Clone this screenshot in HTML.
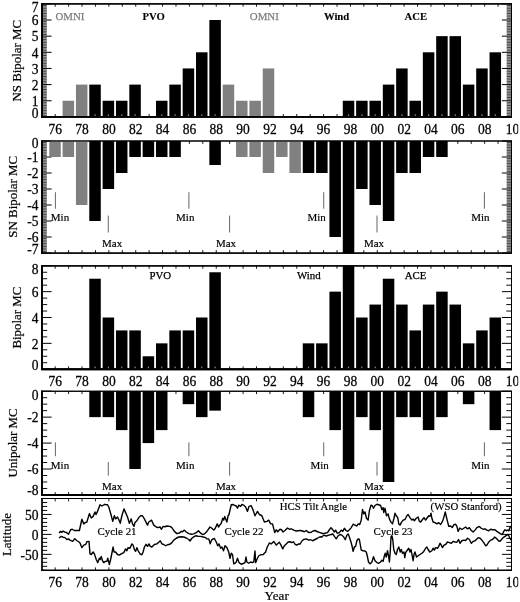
<!DOCTYPE html>
<html><head><meta charset="utf-8"><title>Magnetic clouds per year</title>
<style>html,body{margin:0;padding:0;background:#fff}svg{display:block;filter:blur(0.35px)}</style></head>
<body>
<svg width="520" height="602" viewBox="0 0 520 602" font-family="'Liberation Serif', serif" fill="#000">
<rect width="520" height="602" fill="#fff"/>
<path d="M55.2 3.8v2.9M55.2 116.9v-2.9M68.62 3.8v2.9M68.62 116.9v-2.9M82.04 3.8v2.9M82.04 116.9v-2.9M95.46 3.8v2.9M95.46 116.9v-2.9M108.88 3.8v2.9M108.88 116.9v-2.9M122.3 3.8v2.9M122.3 116.9v-2.9M135.72 3.8v2.9M135.72 116.9v-2.9M149.14 3.8v2.9M149.14 116.9v-2.9M162.56 3.8v2.9M162.56 116.9v-2.9M175.98 3.8v2.9M175.98 116.9v-2.9M189.4 3.8v2.9M189.4 116.9v-2.9M202.82 3.8v2.9M202.82 116.9v-2.9M216.24 3.8v2.9M216.24 116.9v-2.9M229.66 3.8v2.9M229.66 116.9v-2.9M243.08 3.8v2.9M243.08 116.9v-2.9M256.5 3.8v2.9M256.5 116.9v-2.9M269.92 3.8v2.9M269.92 116.9v-2.9M283.34 3.8v2.9M283.34 116.9v-2.9M296.76 3.8v2.9M296.76 116.9v-2.9M310.18 3.8v2.9M310.18 116.9v-2.9M323.6 3.8v2.9M323.6 116.9v-2.9M337.02 3.8v2.9M337.02 116.9v-2.9M350.44 3.8v2.9M350.44 116.9v-2.9M363.86 3.8v2.9M363.86 116.9v-2.9M377.28 3.8v2.9M377.28 116.9v-2.9M390.7 3.8v2.9M390.7 116.9v-2.9M404.12 3.8v2.9M404.12 116.9v-2.9M417.54 3.8v2.9M417.54 116.9v-2.9M430.96 3.8v2.9M430.96 116.9v-2.9M444.38 3.8v2.9M444.38 116.9v-2.9M457.8 3.8v2.9M457.8 116.9v-2.9M471.22 3.8v2.9M471.22 116.9v-2.9M484.64 3.8v2.9M484.64 116.9v-2.9M498.06 3.8v2.9M498.06 116.9v-2.9" stroke="#000" stroke-width="0.9" fill="none"/>
<path d="M42 115.29h4.8M511.5 115.29h-4.8M42 113.67h4.8M511.5 113.67h-4.8M42 112.06h4.8M511.5 112.06h-4.8M42 110.44h4.8M511.5 110.44h-4.8M42 108.83h4.8M511.5 108.83h-4.8M42 107.21h4.8M511.5 107.21h-4.8M42 105.59h4.8M511.5 105.59h-4.8M42 103.98h4.8M511.5 103.98h-4.8M42 102.37h4.8M511.5 102.37h-4.8M42 99.14h4.8M511.5 99.14h-4.8M42 97.52h4.8M511.5 97.52h-4.8M42 95.91h4.8M511.5 95.91h-4.8M42 94.29h4.8M511.5 94.29h-4.8M42 92.68h4.8M511.5 92.68h-4.8M42 91.06h4.8M511.5 91.06h-4.8M42 89.45h4.8M511.5 89.45h-4.8M42 87.83h4.8M511.5 87.83h-4.8M42 86.22h4.8M511.5 86.22h-4.8M42 82.99h4.8M511.5 82.99h-4.8M42 81.37h4.8M511.5 81.37h-4.8M42 79.75h4.8M511.5 79.75h-4.8M42 78.14h4.8M511.5 78.14h-4.8M42 76.53h4.8M511.5 76.53h-4.8M42 74.91h4.8M511.5 74.91h-4.8M42 73.3h4.8M511.5 73.3h-4.8M42 71.68h4.8M511.5 71.68h-4.8M42 70.06h4.8M511.5 70.06h-4.8M42 66.84h4.8M511.5 66.84h-4.8M42 65.22h4.8M511.5 65.22h-4.8M42 63.61h4.8M511.5 63.61h-4.8M42 61.99h4.8M511.5 61.99h-4.8M42 60.38h4.8M511.5 60.38h-4.8M42 58.76h4.8M511.5 58.76h-4.8M42 57.15h4.8M511.5 57.15h-4.8M42 55.53h4.8M511.5 55.53h-4.8M42 53.92h4.8M511.5 53.92h-4.8M42 50.69h4.8M511.5 50.69h-4.8M42 49.07h4.8M511.5 49.07h-4.8M42 47.46h4.8M511.5 47.46h-4.8M42 45.84h4.8M511.5 45.84h-4.8M42 44.23h4.8M511.5 44.23h-4.8M42 42.61h4.8M511.5 42.61h-4.8M42 41h4.8M511.5 41h-4.8M42 39.38h4.8M511.5 39.38h-4.8M42 37.77h4.8M511.5 37.77h-4.8M42 34.54h4.8M511.5 34.54h-4.8M42 32.92h4.8M511.5 32.92h-4.8M42 31.31h4.8M511.5 31.31h-4.8M42 29.69h4.8M511.5 29.69h-4.8M42 28.08h4.8M511.5 28.08h-4.8M42 26.46h4.8M511.5 26.46h-4.8M42 24.85h4.8M511.5 24.85h-4.8M42 23.23h4.8M511.5 23.23h-4.8M42 21.62h4.8M511.5 21.62h-4.8M42 18.39h4.8M511.5 18.39h-4.8M42 16.77h4.8M511.5 16.77h-4.8M42 15.16h4.8M511.5 15.16h-4.8M42 13.54h4.8M511.5 13.54h-4.8M42 11.93h4.8M511.5 11.93h-4.8M42 10.31h4.8M511.5 10.31h-4.8M42 8.7h4.8M511.5 8.7h-4.8M42 7.08h4.8M511.5 7.08h-4.8M42 5.47h4.8M511.5 5.47h-4.8" stroke="#000" stroke-width="0.72" fill="none"/>
<path d="M42 116.09h4.8M511.5 116.09h-4.8M42 114.48h4.8M511.5 114.48h-4.8M42 112.86h4.8M511.5 112.86h-4.8M42 111.25h4.8M511.5 111.25h-4.8M42 109.63h4.8M511.5 109.63h-4.8M42 108.02h4.8M511.5 108.02h-4.8M42 106.4h4.8M511.5 106.4h-4.8M42 104.79h4.8M511.5 104.79h-4.8M42 103.17h4.8M511.5 103.17h-4.8M42 101.56h4.8M511.5 101.56h-4.8M42 99.94h4.8M511.5 99.94h-4.8M42 98.33h4.8M511.5 98.33h-4.8M42 96.71h4.8M511.5 96.71h-4.8M42 95.1h4.8M511.5 95.1h-4.8M42 93.48h4.8M511.5 93.48h-4.8M42 91.87h4.8M511.5 91.87h-4.8M42 90.25h4.8M511.5 90.25h-4.8M42 88.64h4.8M511.5 88.64h-4.8M42 87.02h4.8M511.5 87.02h-4.8M42 85.41h4.8M511.5 85.41h-4.8M42 83.79h4.8M511.5 83.79h-4.8M42 82.18h4.8M511.5 82.18h-4.8M42 80.56h4.8M511.5 80.56h-4.8M42 78.95h4.8M511.5 78.95h-4.8M42 77.33h4.8M511.5 77.33h-4.8M42 75.72h4.8M511.5 75.72h-4.8M42 74.1h4.8M511.5 74.1h-4.8M42 72.49h4.8M511.5 72.49h-4.8M42 70.87h4.8M511.5 70.87h-4.8M42 69.26h4.8M511.5 69.26h-4.8M42 67.64h4.8M511.5 67.64h-4.8M42 66.03h4.8M511.5 66.03h-4.8M42 64.41h4.8M511.5 64.41h-4.8M42 62.8h4.8M511.5 62.8h-4.8M42 61.18h4.8M511.5 61.18h-4.8M42 59.57h4.8M511.5 59.57h-4.8M42 57.95h4.8M511.5 57.95h-4.8M42 56.34h4.8M511.5 56.34h-4.8M42 54.72h4.8M511.5 54.72h-4.8M42 53.11h4.8M511.5 53.11h-4.8M42 51.49h4.8M511.5 51.49h-4.8M42 49.88h4.8M511.5 49.88h-4.8M42 48.26h4.8M511.5 48.26h-4.8M42 46.65h4.8M511.5 46.65h-4.8M42 45.03h4.8M511.5 45.03h-4.8M42 43.42h4.8M511.5 43.42h-4.8M42 41.8h4.8M511.5 41.8h-4.8M42 40.19h4.8M511.5 40.19h-4.8M42 38.57h4.8M511.5 38.57h-4.8M42 36.96h4.8M511.5 36.96h-4.8M42 35.34h4.8M511.5 35.34h-4.8M42 33.73h4.8M511.5 33.73h-4.8M42 32.11h4.8M511.5 32.11h-4.8M42 30.5h4.8M511.5 30.5h-4.8M42 28.88h4.8M511.5 28.88h-4.8M42 27.27h4.8M511.5 27.27h-4.8M42 25.65h4.8M511.5 25.65h-4.8M42 24.04h4.8M511.5 24.04h-4.8M42 22.42h4.8M511.5 22.42h-4.8M42 20.81h4.8M511.5 20.81h-4.8M42 19.19h4.8M511.5 19.19h-4.8M42 17.58h4.8M511.5 17.58h-4.8M42 15.96h4.8M511.5 15.96h-4.8M42 14.35h4.8M511.5 14.35h-4.8M42 12.73h4.8M511.5 12.73h-4.8M42 11.12h4.8M511.5 11.12h-4.8M42 9.5h4.8M511.5 9.5h-4.8M42 7.89h4.8M511.5 7.89h-4.8M42 6.27h4.8M511.5 6.27h-4.8M42 4.66h4.8M511.5 4.66h-4.8" stroke="#000" stroke-width="0.26" fill="none"/>
<path d="M42 116.9h9.6M511.5 116.9h-9.6M42 100.75h9.6M511.5 100.75h-9.6M42 84.6h9.6M511.5 84.6h-9.6M42 68.45h9.6M511.5 68.45h-9.6M42 52.3h9.6M511.5 52.3h-9.6M42 36.15h9.6M511.5 36.15h-9.6M42 20h9.6M511.5 20h-9.6M42 3.85h9.6M511.5 3.85h-9.6" stroke="#000" stroke-width="1.0" fill="none"/>
<path d="M41.2 3.8H512" stroke="#000" stroke-width="1.15" fill="none"/>
<path d="M511.5 3.8V116.9" stroke="#000" stroke-width="1.05" fill="none"/>
<path d="M42 3.3V117.7" stroke="#000" stroke-width="1.7" fill="none"/>
<path d="M41.2 116.9H512" stroke="#000" stroke-width="1.65" fill="none"/>
<rect x="62.6" y="100.75" width="11.5" height="16.15" fill="#808080"/>
<rect x="75.94" y="84.6" width="11.5" height="32.3" fill="#808080"/>
<rect x="89.28" y="84.6" width="11.5" height="32.3" fill="#000"/>
<rect x="102.63" y="100.75" width="11.5" height="16.15" fill="#000"/>
<rect x="115.97" y="100.75" width="11.5" height="16.15" fill="#000"/>
<rect x="129.31" y="84.6" width="11.5" height="32.3" fill="#000"/>
<rect x="155.99" y="100.75" width="11.5" height="16.15" fill="#000"/>
<rect x="169.34" y="84.6" width="11.5" height="32.3" fill="#000"/>
<rect x="182.68" y="68.45" width="11.5" height="48.45" fill="#000"/>
<rect x="196.02" y="52.3" width="11.5" height="64.6" fill="#000"/>
<rect x="209.36" y="20" width="11.5" height="96.9" fill="#000"/>
<rect x="222.7" y="84.6" width="11.5" height="32.3" fill="#808080"/>
<rect x="236.05" y="100.75" width="11.5" height="16.15" fill="#808080"/>
<rect x="249.39" y="100.75" width="11.5" height="16.15" fill="#808080"/>
<rect x="262.73" y="68.45" width="11.5" height="48.45" fill="#808080"/>
<rect x="342.78" y="100.75" width="11.5" height="16.15" fill="#000"/>
<rect x="356.12" y="100.75" width="11.5" height="16.15" fill="#000"/>
<rect x="369.47" y="100.75" width="11.5" height="16.15" fill="#000"/>
<rect x="382.81" y="84.6" width="11.5" height="32.3" fill="#000"/>
<rect x="396.15" y="68.45" width="11.5" height="48.45" fill="#000"/>
<rect x="409.49" y="100.75" width="11.5" height="16.15" fill="#000"/>
<rect x="422.83" y="52.3" width="11.5" height="64.6" fill="#000"/>
<rect x="436.18" y="36.15" width="11.5" height="80.75" fill="#000"/>
<rect x="449.52" y="36.15" width="11.5" height="80.75" fill="#000"/>
<rect x="462.86" y="84.6" width="11.5" height="32.3" fill="#000"/>
<rect x="476.2" y="68.45" width="11.5" height="48.45" fill="#000"/>
<rect x="489.54" y="52.3" width="11.5" height="64.6" fill="#000"/>
<path d="M41.2 3.8H512" stroke="#000" stroke-width="1.15" fill="none"/>
<path d="M511.5 3.8V116.9" stroke="#000" stroke-width="1.05" fill="none"/>
<path d="M42 3.3V117.7" stroke="#000" stroke-width="1.7" fill="none"/>
<path d="M41.2 116.9H512" stroke="#000" stroke-width="1.65" fill="none"/>
<rect x="67.75" y="114.3" width="1.2" height="1.6" fill="#8a8a8a"/><rect x="81.09" y="114.3" width="1.2" height="1.6" fill="#8a8a8a"/><rect x="94.43" y="114.3" width="1.2" height="1.6" fill="#8a8a8a"/><rect x="107.78" y="114.3" width="1.2" height="1.6" fill="#8a8a8a"/><rect x="121.12" y="114.3" width="1.2" height="1.6" fill="#8a8a8a"/><rect x="134.46" y="114.3" width="1.2" height="1.6" fill="#8a8a8a"/><rect x="161.14" y="114.3" width="1.2" height="1.6" fill="#8a8a8a"/><rect x="174.49" y="114.3" width="1.2" height="1.6" fill="#8a8a8a"/><rect x="187.83" y="114.3" width="1.2" height="1.6" fill="#8a8a8a"/><rect x="201.17" y="114.3" width="1.2" height="1.6" fill="#8a8a8a"/><rect x="214.51" y="114.3" width="1.2" height="1.6" fill="#8a8a8a"/><rect x="227.85" y="114.3" width="1.2" height="1.6" fill="#8a8a8a"/><rect x="241.2" y="114.3" width="1.2" height="1.6" fill="#8a8a8a"/><rect x="254.54" y="114.3" width="1.2" height="1.6" fill="#8a8a8a"/><rect x="267.88" y="114.3" width="1.2" height="1.6" fill="#8a8a8a"/><rect x="347.93" y="114.3" width="1.2" height="1.6" fill="#8a8a8a"/><rect x="361.27" y="114.3" width="1.2" height="1.6" fill="#8a8a8a"/><rect x="374.62" y="114.3" width="1.2" height="1.6" fill="#8a8a8a"/><rect x="387.96" y="114.3" width="1.2" height="1.6" fill="#8a8a8a"/><rect x="401.3" y="114.3" width="1.2" height="1.6" fill="#8a8a8a"/><rect x="414.64" y="114.3" width="1.2" height="1.6" fill="#8a8a8a"/><rect x="427.98" y="114.3" width="1.2" height="1.6" fill="#8a8a8a"/><rect x="441.33" y="114.3" width="1.2" height="1.6" fill="#8a8a8a"/><rect x="454.67" y="114.3" width="1.2" height="1.6" fill="#8a8a8a"/><rect x="468.01" y="114.3" width="1.2" height="1.6" fill="#8a8a8a"/><rect x="481.35" y="114.3" width="1.2" height="1.6" fill="#8a8a8a"/><rect x="494.69" y="114.3" width="1.2" height="1.6" fill="#8a8a8a"/>
<path d="M55.2 141v2.9M55.2 253v-2.9M68.62 141v2.9M68.62 253v-2.9M82.04 141v2.9M82.04 253v-2.9M95.46 141v2.9M95.46 253v-2.9M108.88 141v2.9M108.88 253v-2.9M122.3 141v2.9M122.3 253v-2.9M135.72 141v2.9M135.72 253v-2.9M149.14 141v2.9M149.14 253v-2.9M162.56 141v2.9M162.56 253v-2.9M175.98 141v2.9M175.98 253v-2.9M189.4 141v2.9M189.4 253v-2.9M202.82 141v2.9M202.82 253v-2.9M216.24 141v2.9M216.24 253v-2.9M229.66 141v2.9M229.66 253v-2.9M243.08 141v2.9M243.08 253v-2.9M256.5 141v2.9M256.5 253v-2.9M269.92 141v2.9M269.92 253v-2.9M283.34 141v2.9M283.34 253v-2.9M296.76 141v2.9M296.76 253v-2.9M310.18 141v2.9M310.18 253v-2.9M323.6 141v2.9M323.6 253v-2.9M337.02 141v2.9M337.02 253v-2.9M350.44 141v2.9M350.44 253v-2.9M363.86 141v2.9M363.86 253v-2.9M377.28 141v2.9M377.28 253v-2.9M390.7 141v2.9M390.7 253v-2.9M404.12 141v2.9M404.12 253v-2.9M417.54 141v2.9M417.54 253v-2.9M430.96 141v2.9M430.96 253v-2.9M444.38 141v2.9M444.38 253v-2.9M457.8 141v2.9M457.8 253v-2.9M471.22 141v2.9M471.22 253v-2.9M484.64 141v2.9M484.64 253v-2.9M498.06 141v2.9M498.06 253v-2.9" stroke="#000" stroke-width="0.9" fill="none"/>
<path d="M42 251.4h4.8M511.5 251.4h-4.8M42 249.8h4.8M511.5 249.8h-4.8M42 248.2h4.8M511.5 248.2h-4.8M42 246.6h4.8M511.5 246.6h-4.8M42 245h4.8M511.5 245h-4.8M42 243.4h4.8M511.5 243.4h-4.8M42 241.8h4.8M511.5 241.8h-4.8M42 240.2h4.8M511.5 240.2h-4.8M42 238.6h4.8M511.5 238.6h-4.8M42 235.4h4.8M511.5 235.4h-4.8M42 233.8h4.8M511.5 233.8h-4.8M42 232.2h4.8M511.5 232.2h-4.8M42 230.6h4.8M511.5 230.6h-4.8M42 229h4.8M511.5 229h-4.8M42 227.4h4.8M511.5 227.4h-4.8M42 225.8h4.8M511.5 225.8h-4.8M42 224.2h4.8M511.5 224.2h-4.8M42 222.6h4.8M511.5 222.6h-4.8M42 219.4h4.8M511.5 219.4h-4.8M42 217.8h4.8M511.5 217.8h-4.8M42 216.2h4.8M511.5 216.2h-4.8M42 214.6h4.8M511.5 214.6h-4.8M42 213h4.8M511.5 213h-4.8M42 211.4h4.8M511.5 211.4h-4.8M42 209.8h4.8M511.5 209.8h-4.8M42 208.2h4.8M511.5 208.2h-4.8M42 206.6h4.8M511.5 206.6h-4.8M42 203.4h4.8M511.5 203.4h-4.8M42 201.8h4.8M511.5 201.8h-4.8M42 200.2h4.8M511.5 200.2h-4.8M42 198.6h4.8M511.5 198.6h-4.8M42 197h4.8M511.5 197h-4.8M42 195.4h4.8M511.5 195.4h-4.8M42 193.8h4.8M511.5 193.8h-4.8M42 192.2h4.8M511.5 192.2h-4.8M42 190.6h4.8M511.5 190.6h-4.8M42 187.4h4.8M511.5 187.4h-4.8M42 185.8h4.8M511.5 185.8h-4.8M42 184.2h4.8M511.5 184.2h-4.8M42 182.6h4.8M511.5 182.6h-4.8M42 181h4.8M511.5 181h-4.8M42 179.4h4.8M511.5 179.4h-4.8M42 177.8h4.8M511.5 177.8h-4.8M42 176.2h4.8M511.5 176.2h-4.8M42 174.6h4.8M511.5 174.6h-4.8M42 171.4h4.8M511.5 171.4h-4.8M42 169.8h4.8M511.5 169.8h-4.8M42 168.2h4.8M511.5 168.2h-4.8M42 166.6h4.8M511.5 166.6h-4.8M42 165h4.8M511.5 165h-4.8M42 163.4h4.8M511.5 163.4h-4.8M42 161.8h4.8M511.5 161.8h-4.8M42 160.2h4.8M511.5 160.2h-4.8M42 158.6h4.8M511.5 158.6h-4.8M42 155.4h4.8M511.5 155.4h-4.8M42 153.8h4.8M511.5 153.8h-4.8M42 152.2h4.8M511.5 152.2h-4.8M42 150.6h4.8M511.5 150.6h-4.8M42 149h4.8M511.5 149h-4.8M42 147.4h4.8M511.5 147.4h-4.8M42 145.8h4.8M511.5 145.8h-4.8M42 144.2h4.8M511.5 144.2h-4.8M42 142.6h4.8M511.5 142.6h-4.8" stroke="#000" stroke-width="0.72" fill="none"/>
<path d="M42 252.2h4.8M511.5 252.2h-4.8M42 250.6h4.8M511.5 250.6h-4.8M42 249h4.8M511.5 249h-4.8M42 247.4h4.8M511.5 247.4h-4.8M42 245.8h4.8M511.5 245.8h-4.8M42 244.2h4.8M511.5 244.2h-4.8M42 242.6h4.8M511.5 242.6h-4.8M42 241h4.8M511.5 241h-4.8M42 239.4h4.8M511.5 239.4h-4.8M42 237.8h4.8M511.5 237.8h-4.8M42 236.2h4.8M511.5 236.2h-4.8M42 234.6h4.8M511.5 234.6h-4.8M42 233h4.8M511.5 233h-4.8M42 231.4h4.8M511.5 231.4h-4.8M42 229.8h4.8M511.5 229.8h-4.8M42 228.2h4.8M511.5 228.2h-4.8M42 226.6h4.8M511.5 226.6h-4.8M42 225h4.8M511.5 225h-4.8M42 223.4h4.8M511.5 223.4h-4.8M42 221.8h4.8M511.5 221.8h-4.8M42 220.2h4.8M511.5 220.2h-4.8M42 218.6h4.8M511.5 218.6h-4.8M42 217h4.8M511.5 217h-4.8M42 215.4h4.8M511.5 215.4h-4.8M42 213.8h4.8M511.5 213.8h-4.8M42 212.2h4.8M511.5 212.2h-4.8M42 210.6h4.8M511.5 210.6h-4.8M42 209h4.8M511.5 209h-4.8M42 207.4h4.8M511.5 207.4h-4.8M42 205.8h4.8M511.5 205.8h-4.8M42 204.2h4.8M511.5 204.2h-4.8M42 202.6h4.8M511.5 202.6h-4.8M42 201h4.8M511.5 201h-4.8M42 199.4h4.8M511.5 199.4h-4.8M42 197.8h4.8M511.5 197.8h-4.8M42 196.2h4.8M511.5 196.2h-4.8M42 194.6h4.8M511.5 194.6h-4.8M42 193h4.8M511.5 193h-4.8M42 191.4h4.8M511.5 191.4h-4.8M42 189.8h4.8M511.5 189.8h-4.8M42 188.2h4.8M511.5 188.2h-4.8M42 186.6h4.8M511.5 186.6h-4.8M42 185h4.8M511.5 185h-4.8M42 183.4h4.8M511.5 183.4h-4.8M42 181.8h4.8M511.5 181.8h-4.8M42 180.2h4.8M511.5 180.2h-4.8M42 178.6h4.8M511.5 178.6h-4.8M42 177h4.8M511.5 177h-4.8M42 175.4h4.8M511.5 175.4h-4.8M42 173.8h4.8M511.5 173.8h-4.8M42 172.2h4.8M511.5 172.2h-4.8M42 170.6h4.8M511.5 170.6h-4.8M42 169h4.8M511.5 169h-4.8M42 167.4h4.8M511.5 167.4h-4.8M42 165.8h4.8M511.5 165.8h-4.8M42 164.2h4.8M511.5 164.2h-4.8M42 162.6h4.8M511.5 162.6h-4.8M42 161h4.8M511.5 161h-4.8M42 159.4h4.8M511.5 159.4h-4.8M42 157.8h4.8M511.5 157.8h-4.8M42 156.2h4.8M511.5 156.2h-4.8M42 154.6h4.8M511.5 154.6h-4.8M42 153h4.8M511.5 153h-4.8M42 151.4h4.8M511.5 151.4h-4.8M42 149.8h4.8M511.5 149.8h-4.8M42 148.2h4.8M511.5 148.2h-4.8M42 146.6h4.8M511.5 146.6h-4.8M42 145h4.8M511.5 145h-4.8M42 143.4h4.8M511.5 143.4h-4.8M42 141.8h4.8M511.5 141.8h-4.8" stroke="#000" stroke-width="0.26" fill="none"/>
<path d="M42 253h9.6M511.5 253h-9.6M42 237h9.6M511.5 237h-9.6M42 221h9.6M511.5 221h-9.6M42 205h9.6M511.5 205h-9.6M42 189h9.6M511.5 189h-9.6M42 173h9.6M511.5 173h-9.6M42 157h9.6M511.5 157h-9.6M42 141h9.6M511.5 141h-9.6" stroke="#000" stroke-width="1.0" fill="none"/>
<path d="M41.2 141H512" stroke="#000" stroke-width="1.15" fill="none"/>
<path d="M511.5 141V253" stroke="#000" stroke-width="1.05" fill="none"/>
<path d="M42 140.5V253.8" stroke="#000" stroke-width="1.7" fill="none"/>
<path d="M41.2 253H512" stroke="#000" stroke-width="1.25" fill="none"/>
<rect x="49.26" y="141" width="11.5" height="16" fill="#808080"/>
<rect x="62.6" y="141" width="11.5" height="16" fill="#808080"/>
<rect x="75.94" y="141" width="11.5" height="64" fill="#808080"/>
<rect x="89.28" y="141" width="11.5" height="80" fill="#000"/>
<rect x="102.63" y="141" width="11.5" height="48" fill="#000"/>
<rect x="115.97" y="141" width="11.5" height="32" fill="#000"/>
<rect x="129.31" y="141" width="11.5" height="16" fill="#000"/>
<rect x="142.65" y="141" width="11.5" height="16" fill="#000"/>
<rect x="155.99" y="141" width="11.5" height="16" fill="#000"/>
<rect x="169.34" y="141" width="11.5" height="16" fill="#000"/>
<rect x="209.36" y="141" width="11.5" height="24" fill="#000"/>
<rect x="236.05" y="141" width="11.5" height="16" fill="#808080"/>
<rect x="249.39" y="141" width="11.5" height="16" fill="#808080"/>
<rect x="262.73" y="141" width="11.5" height="32" fill="#808080"/>
<rect x="276.07" y="141" width="11.5" height="16" fill="#808080"/>
<rect x="289.41" y="141" width="11.5" height="32" fill="#808080"/>
<rect x="302.76" y="141" width="11.5" height="32" fill="#000"/>
<rect x="316.1" y="141" width="11.5" height="32" fill="#000"/>
<rect x="329.44" y="141" width="11.5" height="96" fill="#000"/>
<rect x="342.78" y="141" width="11.5" height="112.5" fill="#000"/>
<rect x="356.12" y="141" width="11.5" height="48" fill="#000"/>
<rect x="369.47" y="141" width="11.5" height="64" fill="#000"/>
<rect x="382.81" y="141" width="11.5" height="80" fill="#000"/>
<rect x="396.15" y="141" width="11.5" height="32" fill="#000"/>
<rect x="409.49" y="141" width="11.5" height="32" fill="#000"/>
<rect x="422.83" y="141" width="11.5" height="16" fill="#000"/>
<rect x="436.18" y="141" width="11.5" height="16" fill="#000"/>
<path d="M41.2 141H512" stroke="#000" stroke-width="1.15" fill="none"/>
<path d="M511.5 141V253" stroke="#000" stroke-width="1.05" fill="none"/>
<path d="M42 140.5V253.8" stroke="#000" stroke-width="1.7" fill="none"/>
<path d="M41.2 253H512" stroke="#000" stroke-width="1.25" fill="none"/>
<path d="M55.2 265.8v2.9M55.2 369.2v-2.9M68.62 265.8v2.9M68.62 369.2v-2.9M82.04 265.8v2.9M82.04 369.2v-2.9M95.46 265.8v2.9M95.46 369.2v-2.9M108.88 265.8v2.9M108.88 369.2v-2.9M122.3 265.8v2.9M122.3 369.2v-2.9M135.72 265.8v2.9M135.72 369.2v-2.9M149.14 265.8v2.9M149.14 369.2v-2.9M162.56 265.8v2.9M162.56 369.2v-2.9M175.98 265.8v2.9M175.98 369.2v-2.9M189.4 265.8v2.9M189.4 369.2v-2.9M202.82 265.8v2.9M202.82 369.2v-2.9M216.24 265.8v2.9M216.24 369.2v-2.9M229.66 265.8v2.9M229.66 369.2v-2.9M243.08 265.8v2.9M243.08 369.2v-2.9M256.5 265.8v2.9M256.5 369.2v-2.9M269.92 265.8v2.9M269.92 369.2v-2.9M283.34 265.8v2.9M283.34 369.2v-2.9M296.76 265.8v2.9M296.76 369.2v-2.9M310.18 265.8v2.9M310.18 369.2v-2.9M323.6 265.8v2.9M323.6 369.2v-2.9M337.02 265.8v2.9M337.02 369.2v-2.9M350.44 265.8v2.9M350.44 369.2v-2.9M363.86 265.8v2.9M363.86 369.2v-2.9M377.28 265.8v2.9M377.28 369.2v-2.9M390.7 265.8v2.9M390.7 369.2v-2.9M404.12 265.8v2.9M404.12 369.2v-2.9M417.54 265.8v2.9M417.54 369.2v-2.9M430.96 265.8v2.9M430.96 369.2v-2.9M444.38 265.8v2.9M444.38 369.2v-2.9M457.8 265.8v2.9M457.8 369.2v-2.9M471.22 265.8v2.9M471.22 369.2v-2.9M484.64 265.8v2.9M484.64 369.2v-2.9M498.06 265.8v2.9M498.06 369.2v-2.9" stroke="#000" stroke-width="0.9" fill="none"/>
<path d="M42 362.74h5.2M511.5 362.74h-5.2M42 356.27h5.2M511.5 356.27h-5.2M42 349.81h5.2M511.5 349.81h-5.2M42 336.89h5.2M511.5 336.89h-5.2M42 330.42h5.2M511.5 330.42h-5.2M42 323.96h5.2M511.5 323.96h-5.2M42 311.04h5.2M511.5 311.04h-5.2M42 304.57h5.2M511.5 304.57h-5.2M42 298.11h5.2M511.5 298.11h-5.2M42 285.19h5.2M511.5 285.19h-5.2M42 278.72h5.2M511.5 278.72h-5.2M42 272.26h5.2M511.5 272.26h-5.2" stroke="#000" stroke-width="0.95" fill="none"/>
<path d="M42 369.2h9.6M511.5 369.2h-9.6M42 343.35h9.6M511.5 343.35h-9.6M42 317.5h9.6M511.5 317.5h-9.6M42 291.65h9.6M511.5 291.65h-9.6M42 265.8h9.6M511.5 265.8h-9.6" stroke="#000" stroke-width="1.0" fill="none"/>
<path d="M41.2 265.8H512" stroke="#000" stroke-width="1.15" fill="none"/>
<path d="M511.5 265.8V369.2" stroke="#000" stroke-width="1.05" fill="none"/>
<path d="M42 265.3V370" stroke="#000" stroke-width="1.7" fill="none"/>
<path d="M41.2 369.2H512" stroke="#000" stroke-width="1.85" fill="none"/>
<rect x="89.28" y="278.72" width="11.5" height="90.48" fill="#000"/>
<rect x="102.63" y="317.5" width="11.5" height="51.7" fill="#000"/>
<rect x="115.97" y="330.42" width="11.5" height="38.78" fill="#000"/>
<rect x="129.31" y="330.42" width="11.5" height="38.78" fill="#000"/>
<rect x="142.65" y="356.27" width="11.5" height="12.93" fill="#000"/>
<rect x="155.99" y="343.35" width="11.5" height="25.85" fill="#000"/>
<rect x="169.34" y="330.42" width="11.5" height="38.78" fill="#000"/>
<rect x="182.68" y="330.42" width="11.5" height="38.78" fill="#000"/>
<rect x="196.02" y="317.5" width="11.5" height="51.7" fill="#000"/>
<rect x="209.36" y="272.26" width="11.5" height="96.94" fill="#000"/>
<rect x="302.76" y="343.35" width="11.5" height="25.85" fill="#000"/>
<rect x="316.1" y="343.35" width="11.5" height="25.85" fill="#000"/>
<rect x="329.44" y="291.65" width="11.5" height="77.55" fill="#000"/>
<rect x="342.78" y="265.5" width="11.5" height="103.7" fill="#000"/>
<rect x="356.12" y="317.5" width="11.5" height="51.7" fill="#000"/>
<rect x="369.47" y="304.57" width="11.5" height="64.62" fill="#000"/>
<rect x="382.81" y="278.72" width="11.5" height="90.48" fill="#000"/>
<rect x="396.15" y="304.57" width="11.5" height="64.62" fill="#000"/>
<rect x="409.49" y="330.42" width="11.5" height="38.78" fill="#000"/>
<rect x="422.83" y="304.57" width="11.5" height="64.62" fill="#000"/>
<rect x="436.18" y="291.65" width="11.5" height="77.55" fill="#000"/>
<rect x="449.52" y="304.57" width="11.5" height="64.62" fill="#000"/>
<rect x="462.86" y="343.35" width="11.5" height="25.85" fill="#000"/>
<rect x="476.2" y="330.42" width="11.5" height="38.78" fill="#000"/>
<rect x="489.54" y="317.5" width="11.5" height="51.7" fill="#000"/>
<path d="M41.2 265.8H512" stroke="#000" stroke-width="1.15" fill="none"/>
<path d="M511.5 265.8V369.2" stroke="#000" stroke-width="1.05" fill="none"/>
<path d="M42 265.3V370" stroke="#000" stroke-width="1.7" fill="none"/>
<path d="M41.2 369.2H512" stroke="#000" stroke-width="1.85" fill="none"/>
<rect x="94.43" y="366.6" width="1.2" height="1.6" fill="#8a8a8a"/><rect x="107.78" y="366.6" width="1.2" height="1.6" fill="#8a8a8a"/><rect x="121.12" y="366.6" width="1.2" height="1.6" fill="#8a8a8a"/><rect x="134.46" y="366.6" width="1.2" height="1.6" fill="#8a8a8a"/><rect x="147.8" y="366.6" width="1.2" height="1.6" fill="#8a8a8a"/><rect x="161.14" y="366.6" width="1.2" height="1.6" fill="#8a8a8a"/><rect x="174.49" y="366.6" width="1.2" height="1.6" fill="#8a8a8a"/><rect x="187.83" y="366.6" width="1.2" height="1.6" fill="#8a8a8a"/><rect x="201.17" y="366.6" width="1.2" height="1.6" fill="#8a8a8a"/><rect x="214.51" y="366.6" width="1.2" height="1.6" fill="#8a8a8a"/><rect x="307.91" y="366.6" width="1.2" height="1.6" fill="#8a8a8a"/><rect x="321.25" y="366.6" width="1.2" height="1.6" fill="#8a8a8a"/><rect x="334.59" y="366.6" width="1.2" height="1.6" fill="#8a8a8a"/><rect x="347.93" y="366.6" width="1.2" height="1.6" fill="#8a8a8a"/><rect x="361.27" y="366.6" width="1.2" height="1.6" fill="#8a8a8a"/><rect x="374.62" y="366.6" width="1.2" height="1.6" fill="#8a8a8a"/><rect x="387.96" y="366.6" width="1.2" height="1.6" fill="#8a8a8a"/><rect x="401.3" y="366.6" width="1.2" height="1.6" fill="#8a8a8a"/><rect x="414.64" y="366.6" width="1.2" height="1.6" fill="#8a8a8a"/><rect x="427.98" y="366.6" width="1.2" height="1.6" fill="#8a8a8a"/><rect x="441.33" y="366.6" width="1.2" height="1.6" fill="#8a8a8a"/><rect x="454.67" y="366.6" width="1.2" height="1.6" fill="#8a8a8a"/><rect x="468.01" y="366.6" width="1.2" height="1.6" fill="#8a8a8a"/><rect x="481.35" y="366.6" width="1.2" height="1.6" fill="#8a8a8a"/><rect x="494.69" y="366.6" width="1.2" height="1.6" fill="#8a8a8a"/>
<path d="M55.2 391.2v2.9M55.2 495v-2.9M68.62 391.2v2.9M68.62 495v-2.9M82.04 391.2v2.9M82.04 495v-2.9M95.46 391.2v2.9M95.46 495v-2.9M108.88 391.2v2.9M108.88 495v-2.9M122.3 391.2v2.9M122.3 495v-2.9M135.72 391.2v2.9M135.72 495v-2.9M149.14 391.2v2.9M149.14 495v-2.9M162.56 391.2v2.9M162.56 495v-2.9M175.98 391.2v2.9M175.98 495v-2.9M189.4 391.2v2.9M189.4 495v-2.9M202.82 391.2v2.9M202.82 495v-2.9M216.24 391.2v2.9M216.24 495v-2.9M229.66 391.2v2.9M229.66 495v-2.9M243.08 391.2v2.9M243.08 495v-2.9M256.5 391.2v2.9M256.5 495v-2.9M269.92 391.2v2.9M269.92 495v-2.9M283.34 391.2v2.9M283.34 495v-2.9M296.76 391.2v2.9M296.76 495v-2.9M310.18 391.2v2.9M310.18 495v-2.9M323.6 391.2v2.9M323.6 495v-2.9M337.02 391.2v2.9M337.02 495v-2.9M350.44 391.2v2.9M350.44 495v-2.9M363.86 391.2v2.9M363.86 495v-2.9M377.28 391.2v2.9M377.28 495v-2.9M390.7 391.2v2.9M390.7 495v-2.9M404.12 391.2v2.9M404.12 495v-2.9M417.54 391.2v2.9M417.54 495v-2.9M430.96 391.2v2.9M430.96 495v-2.9M444.38 391.2v2.9M444.38 495v-2.9M457.8 391.2v2.9M457.8 495v-2.9M471.22 391.2v2.9M471.22 495v-2.9M484.64 391.2v2.9M484.64 495v-2.9M498.06 391.2v2.9M498.06 495v-2.9" stroke="#000" stroke-width="0.9" fill="none"/>
<path d="M42 488.48h5.2M511.5 488.48h-5.2M42 481.99h5.2M511.5 481.99h-5.2M42 475.5h5.2M511.5 475.5h-5.2M42 462.53h5.2M511.5 462.53h-5.2M42 456.05h5.2M511.5 456.05h-5.2M42 449.56h5.2M511.5 449.56h-5.2M42 436.59h5.2M511.5 436.59h-5.2M42 430.11h5.2M511.5 430.11h-5.2M42 423.62h5.2M511.5 423.62h-5.2M42 410.65h5.2M511.5 410.65h-5.2M42 404.17h5.2M511.5 404.17h-5.2M42 397.69h5.2M511.5 397.69h-5.2" stroke="#000" stroke-width="0.95" fill="none"/>
<path d="M42 494.96h9.6M511.5 494.96h-9.6M42 469.02h9.6M511.5 469.02h-9.6M42 443.08h9.6M511.5 443.08h-9.6M42 417.14h9.6M511.5 417.14h-9.6M42 391.2h9.6M511.5 391.2h-9.6" stroke="#000" stroke-width="1.0" fill="none"/>
<path d="M41.2 391.2H512" stroke="#000" stroke-width="1.15" fill="none"/>
<path d="M511.5 391.2V495" stroke="#000" stroke-width="1.05" fill="none"/>
<path d="M42 390.7V495.8" stroke="#000" stroke-width="1.7" fill="none"/>
<path d="M41.2 495H512" stroke="#000" stroke-width="1.85" fill="none"/>
<rect x="89.28" y="391.2" width="11.5" height="25.94" fill="#000"/>
<rect x="102.63" y="391.2" width="11.5" height="25.94" fill="#000"/>
<rect x="115.97" y="391.2" width="11.5" height="38.91" fill="#000"/>
<rect x="129.31" y="391.2" width="11.5" height="77.82" fill="#000"/>
<rect x="142.65" y="391.2" width="11.5" height="51.88" fill="#000"/>
<rect x="155.99" y="391.2" width="11.5" height="38.91" fill="#000"/>
<rect x="182.68" y="391.2" width="11.5" height="12.97" fill="#000"/>
<rect x="196.02" y="391.2" width="11.5" height="25.94" fill="#000"/>
<rect x="209.36" y="391.2" width="11.5" height="19.45" fill="#000"/>
<rect x="302.76" y="391.2" width="11.5" height="25.94" fill="#000"/>
<rect x="329.44" y="391.2" width="11.5" height="38.91" fill="#000"/>
<rect x="342.78" y="391.2" width="11.5" height="77.82" fill="#000"/>
<rect x="356.12" y="391.2" width="11.5" height="25.94" fill="#000"/>
<rect x="369.47" y="391.2" width="11.5" height="38.91" fill="#000"/>
<rect x="382.81" y="391.2" width="11.5" height="90.79" fill="#000"/>
<rect x="396.15" y="391.2" width="11.5" height="25.94" fill="#000"/>
<rect x="409.49" y="391.2" width="11.5" height="25.94" fill="#000"/>
<rect x="422.83" y="391.2" width="11.5" height="38.91" fill="#000"/>
<rect x="436.18" y="391.2" width="11.5" height="25.94" fill="#000"/>
<rect x="462.86" y="391.2" width="11.5" height="12.97" fill="#000"/>
<rect x="489.54" y="391.2" width="11.5" height="38.91" fill="#000"/>
<path d="M41.2 391.2H512" stroke="#000" stroke-width="1.15" fill="none"/>
<path d="M511.5 391.2V495" stroke="#000" stroke-width="1.05" fill="none"/>
<path d="M42 390.7V495.8" stroke="#000" stroke-width="1.7" fill="none"/>
<path d="M41.2 495H512" stroke="#000" stroke-width="1.85" fill="none"/>
<path d="M55.2 498.5v2.9M55.2 570.3v-2.9M68.62 498.5v2.9M68.62 570.3v-2.9M82.04 498.5v2.9M82.04 570.3v-2.9M95.46 498.5v2.9M95.46 570.3v-2.9M108.88 498.5v2.9M108.88 570.3v-2.9M122.3 498.5v2.9M122.3 570.3v-2.9M135.72 498.5v2.9M135.72 570.3v-2.9M149.14 498.5v2.9M149.14 570.3v-2.9M162.56 498.5v2.9M162.56 570.3v-2.9M175.98 498.5v2.9M175.98 570.3v-2.9M189.4 498.5v2.9M189.4 570.3v-2.9M202.82 498.5v2.9M202.82 570.3v-2.9M216.24 498.5v2.9M216.24 570.3v-2.9M229.66 498.5v2.9M229.66 570.3v-2.9M243.08 498.5v2.9M243.08 570.3v-2.9M256.5 498.5v2.9M256.5 570.3v-2.9M269.92 498.5v2.9M269.92 570.3v-2.9M283.34 498.5v2.9M283.34 570.3v-2.9M296.76 498.5v2.9M296.76 570.3v-2.9M310.18 498.5v2.9M310.18 570.3v-2.9M323.6 498.5v2.9M323.6 570.3v-2.9M337.02 498.5v2.9M337.02 570.3v-2.9M350.44 498.5v2.9M350.44 570.3v-2.9M363.86 498.5v2.9M363.86 570.3v-2.9M377.28 498.5v2.9M377.28 570.3v-2.9M390.7 498.5v2.9M390.7 570.3v-2.9M404.12 498.5v2.9M404.12 570.3v-2.9M417.54 498.5v2.9M417.54 570.3v-2.9M430.96 498.5v2.9M430.96 570.3v-2.9M444.38 498.5v2.9M444.38 570.3v-2.9M457.8 498.5v2.9M457.8 570.3v-2.9M471.22 498.5v2.9M471.22 570.3v-2.9M484.64 498.5v2.9M484.64 570.3v-2.9M498.06 498.5v2.9M498.06 570.3v-2.9" stroke="#000" stroke-width="0.9" fill="none"/>
<path d="M42 570.31h5.2M511.5 570.31h-5.2M42 566.32h5.2M511.5 566.32h-5.2M42 562.33h5.2M511.5 562.33h-5.2M42 558.34h5.2M511.5 558.34h-5.2M42 550.36h5.2M511.5 550.36h-5.2M42 546.37h5.2M511.5 546.37h-5.2M42 542.38h5.2M511.5 542.38h-5.2M42 538.39h5.2M511.5 538.39h-5.2M42 530.41h5.2M511.5 530.41h-5.2M42 526.42h5.2M511.5 526.42h-5.2M42 522.43h5.2M511.5 522.43h-5.2M42 518.44h5.2M511.5 518.44h-5.2M42 510.46h5.2M511.5 510.46h-5.2M42 506.47h5.2M511.5 506.47h-5.2M42 502.48h5.2M511.5 502.48h-5.2M42 498.49h5.2M511.5 498.49h-5.2" stroke="#000" stroke-width="0.95" fill="none"/>
<path d="M42 554.35h9.6M511.5 554.35h-9.6M42 534.4h9.6M511.5 534.4h-9.6M42 514.45h9.6M511.5 514.45h-9.6" stroke="#000" stroke-width="1.0" fill="none"/>
<path d="M41.2 498.5H512" stroke="#000" stroke-width="1.15" fill="none"/>
<path d="M511.5 498.5V570.3" stroke="#000" stroke-width="1.05" fill="none"/>
<path d="M42 498V571.1" stroke="#000" stroke-width="1.7" fill="none"/>
<path d="M41.2 570.3H512" stroke="#000" stroke-width="1.45" fill="none"/>
<text transform="translate(38.4 117.6) scale(1 1.12)" font-size="13.5" stroke="#000" stroke-width="0.25" text-anchor="end">0</text>
<text transform="translate(38.4 105.95) scale(1 1.12)" font-size="13.5" stroke="#000" stroke-width="0.25" text-anchor="end">1</text>
<text transform="translate(38.4 89.8) scale(1 1.12)" font-size="13.5" stroke="#000" stroke-width="0.25" text-anchor="end">2</text>
<text transform="translate(38.4 73.65) scale(1 1.12)" font-size="13.5" stroke="#000" stroke-width="0.25" text-anchor="end">3</text>
<text transform="translate(38.4 57.5) scale(1 1.12)" font-size="13.5" stroke="#000" stroke-width="0.25" text-anchor="end">4</text>
<text transform="translate(38.4 41.35) scale(1 1.12)" font-size="13.5" stroke="#000" stroke-width="0.25" text-anchor="end">5</text>
<text transform="translate(38.4 25.2) scale(1 1.12)" font-size="13.5" stroke="#000" stroke-width="0.25" text-anchor="end">6</text>
<text transform="translate(38.4 12.4) scale(1 1.12)" font-size="13.5" stroke="#000" stroke-width="0.25" text-anchor="end">7</text>
<text transform="translate(38.4 253.7) scale(1 1.12)" font-size="13.5" stroke="#000" stroke-width="0.25" text-anchor="end">-7</text>
<text transform="translate(38.4 242.2) scale(1 1.12)" font-size="13.5" stroke="#000" stroke-width="0.25" text-anchor="end">-6</text>
<text transform="translate(38.4 226.2) scale(1 1.12)" font-size="13.5" stroke="#000" stroke-width="0.25" text-anchor="end">-5</text>
<text transform="translate(38.4 210.2) scale(1 1.12)" font-size="13.5" stroke="#000" stroke-width="0.25" text-anchor="end">-4</text>
<text transform="translate(38.4 194.2) scale(1 1.12)" font-size="13.5" stroke="#000" stroke-width="0.25" text-anchor="end">-3</text>
<text transform="translate(38.4 178.2) scale(1 1.12)" font-size="13.5" stroke="#000" stroke-width="0.25" text-anchor="end">-2</text>
<text transform="translate(38.4 162.2) scale(1 1.12)" font-size="13.5" stroke="#000" stroke-width="0.25" text-anchor="end">-1</text>
<text transform="translate(38.4 148.3) scale(1 1.12)" font-size="13.5" stroke="#000" stroke-width="0.25" text-anchor="end">0</text>
<text transform="translate(38.4 369.9) scale(1 1.12)" font-size="13.5" stroke="#000" stroke-width="0.25" text-anchor="end">0</text>
<text transform="translate(38.4 348.55) scale(1 1.12)" font-size="13.5" stroke="#000" stroke-width="0.25" text-anchor="end">2</text>
<text transform="translate(38.4 322.7) scale(1 1.12)" font-size="13.5" stroke="#000" stroke-width="0.25" text-anchor="end">4</text>
<text transform="translate(38.4 296.85) scale(1 1.12)" font-size="13.5" stroke="#000" stroke-width="0.25" text-anchor="end">6</text>
<text transform="translate(38.4 274) scale(1 1.12)" font-size="13.5" stroke="#000" stroke-width="0.25" text-anchor="end">8</text>
<text transform="translate(38.4 495.4) scale(1 1.12)" font-size="13.5" stroke="#000" stroke-width="0.25" text-anchor="end">-8</text>
<text transform="translate(38.4 474.22) scale(1 1.12)" font-size="13.5" stroke="#000" stroke-width="0.25" text-anchor="end">-6</text>
<text transform="translate(38.4 448.28) scale(1 1.12)" font-size="13.5" stroke="#000" stroke-width="0.25" text-anchor="end">-4</text>
<text transform="translate(38.4 422.34) scale(1 1.12)" font-size="13.5" stroke="#000" stroke-width="0.25" text-anchor="end">-2</text>
<text transform="translate(38.4 399.5) scale(1 1.12)" font-size="13.5" stroke="#000" stroke-width="0.25" text-anchor="end">0</text>
<text transform="translate(38.4 559.55) scale(1 1.12)" font-size="13.5" stroke="#000" stroke-width="0.25" text-anchor="end">-50</text>
<text transform="translate(38.4 539.6) scale(1 1.12)" font-size="13.5" stroke="#000" stroke-width="0.25" text-anchor="end">0</text>
<text transform="translate(38.4 519.65) scale(1 1.12)" font-size="13.5" stroke="#000" stroke-width="0.25" text-anchor="end">50</text>
<text transform="translate(55.2 133.8) scale(1 1.12)" font-size="13.5" stroke="#000" stroke-width="0.25" text-anchor="middle">76</text>
<text transform="translate(82.04 133.8) scale(1 1.12)" font-size="13.5" stroke="#000" stroke-width="0.25" text-anchor="middle">78</text>
<text transform="translate(108.88 133.8) scale(1 1.12)" font-size="13.5" stroke="#000" stroke-width="0.25" text-anchor="middle">80</text>
<text transform="translate(135.72 133.8) scale(1 1.12)" font-size="13.5" stroke="#000" stroke-width="0.25" text-anchor="middle">82</text>
<text transform="translate(162.56 133.8) scale(1 1.12)" font-size="13.5" stroke="#000" stroke-width="0.25" text-anchor="middle">84</text>
<text transform="translate(189.4 133.8) scale(1 1.12)" font-size="13.5" stroke="#000" stroke-width="0.25" text-anchor="middle">86</text>
<text transform="translate(216.24 133.8) scale(1 1.12)" font-size="13.5" stroke="#000" stroke-width="0.25" text-anchor="middle">88</text>
<text transform="translate(243.08 133.8) scale(1 1.12)" font-size="13.5" stroke="#000" stroke-width="0.25" text-anchor="middle">90</text>
<text transform="translate(269.92 133.8) scale(1 1.12)" font-size="13.5" stroke="#000" stroke-width="0.25" text-anchor="middle">92</text>
<text transform="translate(296.76 133.8) scale(1 1.12)" font-size="13.5" stroke="#000" stroke-width="0.25" text-anchor="middle">94</text>
<text transform="translate(323.6 133.8) scale(1 1.12)" font-size="13.5" stroke="#000" stroke-width="0.25" text-anchor="middle">96</text>
<text transform="translate(350.44 133.8) scale(1 1.12)" font-size="13.5" stroke="#000" stroke-width="0.25" text-anchor="middle">98</text>
<text transform="translate(377.28 133.8) scale(1 1.12)" font-size="13.5" stroke="#000" stroke-width="0.25" text-anchor="middle">00</text>
<text transform="translate(404.12 133.8) scale(1 1.12)" font-size="13.5" stroke="#000" stroke-width="0.25" text-anchor="middle">02</text>
<text transform="translate(430.96 133.8) scale(1 1.12)" font-size="13.5" stroke="#000" stroke-width="0.25" text-anchor="middle">04</text>
<text transform="translate(457.8 133.8) scale(1 1.12)" font-size="13.5" stroke="#000" stroke-width="0.25" text-anchor="middle">06</text>
<text transform="translate(484.64 133.8) scale(1 1.12)" font-size="13.5" stroke="#000" stroke-width="0.25" text-anchor="middle">08</text>
<text transform="translate(512.5 133.8) scale(1 1.12)" font-size="13.5" stroke="#000" stroke-width="0.25" text-anchor="middle">10</text>
<text transform="translate(55.2 386.2) scale(1 1.12)" font-size="13.5" stroke="#000" stroke-width="0.25" text-anchor="middle">76</text>
<text transform="translate(82.04 386.2) scale(1 1.12)" font-size="13.5" stroke="#000" stroke-width="0.25" text-anchor="middle">78</text>
<text transform="translate(108.88 386.2) scale(1 1.12)" font-size="13.5" stroke="#000" stroke-width="0.25" text-anchor="middle">80</text>
<text transform="translate(135.72 386.2) scale(1 1.12)" font-size="13.5" stroke="#000" stroke-width="0.25" text-anchor="middle">82</text>
<text transform="translate(162.56 386.2) scale(1 1.12)" font-size="13.5" stroke="#000" stroke-width="0.25" text-anchor="middle">84</text>
<text transform="translate(189.4 386.2) scale(1 1.12)" font-size="13.5" stroke="#000" stroke-width="0.25" text-anchor="middle">86</text>
<text transform="translate(216.24 386.2) scale(1 1.12)" font-size="13.5" stroke="#000" stroke-width="0.25" text-anchor="middle">88</text>
<text transform="translate(243.08 386.2) scale(1 1.12)" font-size="13.5" stroke="#000" stroke-width="0.25" text-anchor="middle">90</text>
<text transform="translate(269.92 386.2) scale(1 1.12)" font-size="13.5" stroke="#000" stroke-width="0.25" text-anchor="middle">92</text>
<text transform="translate(296.76 386.2) scale(1 1.12)" font-size="13.5" stroke="#000" stroke-width="0.25" text-anchor="middle">94</text>
<text transform="translate(323.6 386.2) scale(1 1.12)" font-size="13.5" stroke="#000" stroke-width="0.25" text-anchor="middle">96</text>
<text transform="translate(350.44 386.2) scale(1 1.12)" font-size="13.5" stroke="#000" stroke-width="0.25" text-anchor="middle">98</text>
<text transform="translate(377.28 386.2) scale(1 1.12)" font-size="13.5" stroke="#000" stroke-width="0.25" text-anchor="middle">00</text>
<text transform="translate(404.12 386.2) scale(1 1.12)" font-size="13.5" stroke="#000" stroke-width="0.25" text-anchor="middle">02</text>
<text transform="translate(430.96 386.2) scale(1 1.12)" font-size="13.5" stroke="#000" stroke-width="0.25" text-anchor="middle">04</text>
<text transform="translate(457.8 386.2) scale(1 1.12)" font-size="13.5" stroke="#000" stroke-width="0.25" text-anchor="middle">06</text>
<text transform="translate(484.64 386.2) scale(1 1.12)" font-size="13.5" stroke="#000" stroke-width="0.25" text-anchor="middle">08</text>
<text transform="translate(512.5 386.2) scale(1 1.12)" font-size="13.5" stroke="#000" stroke-width="0.25" text-anchor="middle">10</text>
<text transform="translate(55.2 586.9) scale(1 1.12)" font-size="13.5" stroke="#000" stroke-width="0.25" text-anchor="middle">76</text>
<text transform="translate(82.04 586.9) scale(1 1.12)" font-size="13.5" stroke="#000" stroke-width="0.25" text-anchor="middle">78</text>
<text transform="translate(108.88 586.9) scale(1 1.12)" font-size="13.5" stroke="#000" stroke-width="0.25" text-anchor="middle">80</text>
<text transform="translate(135.72 586.9) scale(1 1.12)" font-size="13.5" stroke="#000" stroke-width="0.25" text-anchor="middle">82</text>
<text transform="translate(162.56 586.9) scale(1 1.12)" font-size="13.5" stroke="#000" stroke-width="0.25" text-anchor="middle">84</text>
<text transform="translate(189.4 586.9) scale(1 1.12)" font-size="13.5" stroke="#000" stroke-width="0.25" text-anchor="middle">86</text>
<text transform="translate(216.24 586.9) scale(1 1.12)" font-size="13.5" stroke="#000" stroke-width="0.25" text-anchor="middle">88</text>
<text transform="translate(243.08 586.9) scale(1 1.12)" font-size="13.5" stroke="#000" stroke-width="0.25" text-anchor="middle">90</text>
<text transform="translate(269.92 586.9) scale(1 1.12)" font-size="13.5" stroke="#000" stroke-width="0.25" text-anchor="middle">92</text>
<text transform="translate(296.76 586.9) scale(1 1.12)" font-size="13.5" stroke="#000" stroke-width="0.25" text-anchor="middle">94</text>
<text transform="translate(323.6 586.9) scale(1 1.12)" font-size="13.5" stroke="#000" stroke-width="0.25" text-anchor="middle">96</text>
<text transform="translate(350.44 586.9) scale(1 1.12)" font-size="13.5" stroke="#000" stroke-width="0.25" text-anchor="middle">98</text>
<text transform="translate(377.28 586.9) scale(1 1.12)" font-size="13.5" stroke="#000" stroke-width="0.25" text-anchor="middle">00</text>
<text transform="translate(404.12 586.9) scale(1 1.12)" font-size="13.5" stroke="#000" stroke-width="0.25" text-anchor="middle">02</text>
<text transform="translate(430.96 586.9) scale(1 1.12)" font-size="13.5" stroke="#000" stroke-width="0.25" text-anchor="middle">04</text>
<text transform="translate(457.8 586.9) scale(1 1.12)" font-size="13.5" stroke="#000" stroke-width="0.25" text-anchor="middle">06</text>
<text transform="translate(484.64 586.9) scale(1 1.12)" font-size="13.5" stroke="#000" stroke-width="0.25" text-anchor="middle">08</text>
<text transform="translate(512.5 586.9) scale(1 1.12)" font-size="13.5" stroke="#000" stroke-width="0.25" text-anchor="middle">10</text>
<rect x="518.3" y="0" width="4" height="602" fill="#fff"/>
<text x="276.7" y="600" font-size="13.2" stroke="#000" stroke-width="0.2" text-anchor="middle">Year</text>
<text transform="translate(20.6 60.7) rotate(-90)" font-size="12.9" stroke="#000" stroke-width="0.2" text-anchor="middle">NS Bipolar MC</text>
<text transform="translate(17.1 196.8) rotate(-90)" font-size="12.9" stroke="#000" stroke-width="0.2" text-anchor="middle">SN Bipolar MC</text>
<text transform="translate(20.6 317.6) rotate(-90)" font-size="12.9" stroke="#000" stroke-width="0.2" text-anchor="middle">Bipolar MC</text>
<text transform="translate(17.1 442.9) rotate(-90)" font-size="12.9" stroke="#000" stroke-width="0.2" text-anchor="middle">Unipolar MC</text>
<text transform="translate(11.2 534.6) rotate(-90)" font-size="12.9" stroke="#000" stroke-width="0.2" text-anchor="middle">Latitude</text>
<text x="55.4" y="20.3" font-size="10.9" stroke="#7f7f7f" stroke-width="0.25" fill="#7f7f7f" text-anchor="start">OMNI</text>
<text x="142.5" y="20.3" font-size="10.7" font-weight="bold" stroke="#000" stroke-width="0.1" text-anchor="start">PVO</text>
<text x="249.8" y="20.3" font-size="10.9" stroke="#7f7f7f" stroke-width="0.25" fill="#7f7f7f" text-anchor="start">OMNI</text>
<text x="323.9" y="20.3" font-size="10.7" font-weight="bold" stroke="#000" stroke-width="0.1" text-anchor="start">Wind</text>
<text x="404.5" y="20.3" font-size="10.7" font-weight="bold" stroke="#000" stroke-width="0.1" text-anchor="start">ACE</text>
<text x="149.5" y="278.7" font-size="10.85" stroke="#000" stroke-width="0.25" text-anchor="start">PVO</text>
<text x="296.9" y="278.7" font-size="10.85" stroke="#000" stroke-width="0.25" text-anchor="start">Wind</text>
<text x="404.7" y="278.7" font-size="10.85" stroke="#000" stroke-width="0.25" text-anchor="start">ACE</text>
<path d="M55.4 192.2V208.7" stroke="#4a4a4a" stroke-width="0.85" fill="none"/>
<text x="60" y="221.2" font-size="11" stroke="#000" stroke-width="0.18" text-anchor="middle">Min</text>
<path d="M55.4 442.4V456.2" stroke="#4a4a4a" stroke-width="0.85" fill="none"/>
<text x="60" y="468.8" font-size="11" stroke="#000" stroke-width="0.18" text-anchor="middle">Min</text>
<path d="M108.3 215.6V232.5" stroke="#4a4a4a" stroke-width="0.85" fill="none"/>
<text x="112.1" y="247" font-size="11" stroke="#000" stroke-width="0.18" text-anchor="middle">Max</text>
<path d="M108.3 462V475.6" stroke="#4a4a4a" stroke-width="0.85" fill="none"/>
<text x="112.1" y="489.8" font-size="11" stroke="#000" stroke-width="0.18" text-anchor="middle">Max</text>
<path d="M188.9 192.2V208.7" stroke="#4a4a4a" stroke-width="0.85" fill="none"/>
<text x="185.25" y="221.2" font-size="11" stroke="#000" stroke-width="0.18" text-anchor="middle">Min</text>
<path d="M188.9 442.4V456.2" stroke="#4a4a4a" stroke-width="0.85" fill="none"/>
<text x="185.25" y="468.8" font-size="11" stroke="#000" stroke-width="0.18" text-anchor="middle">Min</text>
<path d="M229.6 215.6V232.5" stroke="#4a4a4a" stroke-width="0.85" fill="none"/>
<text x="226" y="247" font-size="11" stroke="#000" stroke-width="0.18" text-anchor="middle">Max</text>
<path d="M229.6 462V475.6" stroke="#4a4a4a" stroke-width="0.85" fill="none"/>
<text x="226" y="489.8" font-size="11" stroke="#000" stroke-width="0.18" text-anchor="middle">Max</text>
<path d="M323.7 192.2V208.7" stroke="#4a4a4a" stroke-width="0.85" fill="none"/>
<text x="316.6" y="221.2" font-size="11" stroke="#000" stroke-width="0.18" text-anchor="middle">Min</text>
<path d="M323.7 442.4V456.2" stroke="#4a4a4a" stroke-width="0.85" fill="none"/>
<text x="319.6" y="468.8" font-size="11" stroke="#000" stroke-width="0.18" text-anchor="middle">Min</text>
<path d="M377 215.6V232.5" stroke="#4a4a4a" stroke-width="0.85" fill="none"/>
<text x="374" y="247" font-size="11" stroke="#000" stroke-width="0.18" text-anchor="middle">Max</text>
<path d="M377 462V475.6" stroke="#4a4a4a" stroke-width="0.85" fill="none"/>
<text x="374" y="489.8" font-size="11" stroke="#000" stroke-width="0.18" text-anchor="middle">Max</text>
<path d="M484.4 192.2V208.7" stroke="#4a4a4a" stroke-width="0.85" fill="none"/>
<text x="480.4" y="221.2" font-size="11" stroke="#000" stroke-width="0.18" text-anchor="middle">Min</text>
<path d="M484.4 442.4V456.2" stroke="#4a4a4a" stroke-width="0.85" fill="none"/>
<text x="480.4" y="468.8" font-size="11" stroke="#000" stroke-width="0.18" text-anchor="middle">Min</text>
<text x="279.8" y="509.6" font-size="10.8" stroke="#000" stroke-width="0.18" text-anchor="start">HCS Tilt Angle</text>
<text x="430.6" y="509.6" font-size="10.8" stroke="#000" stroke-width="0.18" text-anchor="start">(WSO Stanford)</text>
<text x="97.5" y="534.6" font-size="10.9" stroke="#000" stroke-width="0.18" text-anchor="start">Cycle 21</text>
<text x="224.4" y="534.6" font-size="10.9" stroke="#000" stroke-width="0.18" text-anchor="start">Cycle 22</text>
<text x="373.5" y="534.6" font-size="10.9" stroke="#000" stroke-width="0.18" text-anchor="start">Cycle 23</text>
<path d="M59 532.88L60.62 531.38L61.88 532.38L63.12 531L64.38 532L66.25 532.38L68.5 534.25L70.62 529.75L72.25 529.25L74.38 530.5L76.88 530.5L79.38 530.5L81.88 519.25L83.75 523.88L85.25 522.62L86.88 522L89.38 513.62L91.25 518L93.12 516.38L95 512L96 514.5L97.5 511.38L100 504.75L101.88 506L104.75 504.25L105 504.5L107.5 504.75L108.75 507L110.62 513.25L112.75 521.38L114.38 515.75L115.62 518.88L117.5 517L118.75 519.5L120.25 523.25L121.88 515.75L124 508.88L125.62 512.62L127.5 517L129.38 523.25L131.25 518.88L132.5 523.88L134 526.38L135 522.62L136.88 520.75L138.75 517.62L140.62 515.75L142.5 515.75L144.38 518.88L146.25 522.62L147.5 525.12L148.75 522L151.5 520.12L153.75 525.12L156.25 527L158.12 527.62L160 527L161.5 529.25L163.12 526.38L165 526.75L166.88 526L169.75 526.38L170 526.38L171.88 527.62L174.38 531.38L176.88 533.62L179.38 533L181.25 531.38L182.5 531.75L184.38 530.12L186.25 532L188.75 533.62L191.25 534.25L193.75 533.88L196.25 532.62L198.5 530.75L200 532.62L202.5 534.5L204.38 533.88L206.88 531.38L210 527L211.88 528.25L213.75 530.12L215.25 528.25L217.25 523.88L218.5 527L219.75 525.12L221.25 523.25L222.75 518.25L223.75 520.12L224.75 516.38L226.88 522L228.12 515.75L229 514.5L231.25 504.75L233.12 504.5L234.75 505.5L235 505.5L236.25 506L237.5 508.25L238.75 505.12L240.62 506.38L241.88 504.5L243.75 505.12L245.62 507L247.5 511.38L249 506.38L251.25 505.75L253.12 510.12L255 515.75L257.5 511.38L259.38 514.5L261.88 515.75L264.38 522L266.88 521.38L268.75 520.12L270.62 523.88L272.5 523.88L274.75 532.62L276.25 529.75L277.75 531.75L280 529.25L281.5 529.75L283.12 532L285 530.5L287.5 528L289.38 529.25L291.25 528.88L293.75 530.12L296.25 531L298.12 530.75L299.75 530.5L300 530.5L302.5 531L304.38 531.75L306.25 530.5L308.75 532.62L311.25 532.25L313.12 531L315 530.5L317.5 531.75L320 532.62L322.5 533.5L325 533.25L327.5 532.62L329.38 529.75L331 527.62L332.75 529.75L334.38 532L335.62 530.12L337.25 533.25L339.38 532.62L341.25 530.12L342.75 531.38L344.38 528.25L346 530.5L347.5 531.38L349.38 529.75L351.25 527.62L353.12 524.25L355 525.12L356.88 526L358.12 523.88L359.75 524.5L361.25 520.12L362.5 509.5L363.75 513.88L364.75 512L365 512L366.5 518.25L368.12 520.12L369.38 510.75L371 505.12L372.25 505.75L373.5 508.25L375 505.5L376.88 504.25L378.75 504.75L380.62 505.5L381.88 509.5L383.12 507.62L383.75 512.62L385 508.25L386.5 515.75L388.12 513.88L389.38 518.88L391.25 522.62L392.5 523.88L394 518.25L395 513.25L396.25 515.75L397.75 517.62L398.75 523.88L400 525.12L401.25 522.62L403.12 520.12L405 519.5L406.88 515.75L408.12 514.5L410 517.62L411.88 520.12L413.12 518.88L414.38 520.75L416.25 518.25L418.12 517L419.38 521.38L420.62 522L422.5 519.5L424 517.62L425.62 520.12L426.88 518.25L428.75 515.75L429.75 516.38L430 516.38L431 513.25L431.88 518.25L433.12 522L435 522.62L436.88 523.88L438.75 522.62L440.62 524.5L442.5 521.38L443.75 517.62L445.25 512L446.88 518.88L448.75 526.38L450.62 526L452.25 527.62L453.75 524.75L455.62 524.25L456.88 526.38L458.12 531.38L459.75 528L461.88 529.5L463.75 528.25L465.62 527L467.5 528.88L469.38 527.62L471.25 530.5L473.12 532L475 530.12L476.88 527.62L479.38 526.38L481.25 528.25L483.12 529.25L485 528.88L486.88 530.12L488.75 530.75L490.62 529.25L492.5 529.75L494.75 529.75L495 529.75L496.88 531.38L498.75 532.62L500.62 533.88L502.25 534.5L503.75 531.38L505 529.75L506.25 530.75L507.5 530.12L508.75 530.75L510 527.62L511.25 526.38" fill="none" stroke="#000" stroke-width="1.4" stroke-linejoin="round"/>
<path d="M59 538L61.25 536.38L63.12 537.25L65 537.62L66.88 539.5L68.5 538.88L70 540.12L72.75 541.38L74.75 538.62L76.88 540.75L78.75 541.75L80 543L81.88 547.62L83.75 545.12L85.62 544.5L86.88 541.75L89 541.38L90 553.88L91.25 554.5L93.12 552L94.38 553.88L96.25 559.5L97.75 562.62L99.38 558.25L100.25 559.5L101.25 556.38L102.5 560.75L103.75 562.62L104.75 562L105 561.38L106.88 561.38L107.75 558.25L109.38 564.5L110.62 559.5L111.88 553.25L113.12 547L114 552L115.62 552L117.5 554.5L119.38 555.12L121.25 553.88L123.75 552.62L125.62 548.88L126.88 550.75L128.12 547.62L130 548.25L131.88 543.88L133.12 545.12L134.38 549.5L135.62 551.38L136.88 547.62L138.12 550.75L140 553.88L141.88 554.75L143.12 552L144.38 547L146 544.25L147.5 546.38L149 543.88L150.25 546.38L151.88 547L154.38 544.5L156.88 543.88L158.75 542.25L160.25 540.75L161.88 543.88L163.75 544.5L165.62 545.75L167.5 544.75L169.75 544.25L170 544.25L171.88 542.62L173.75 540.12L176.25 538.25L178.75 537L181.25 536.75L183.75 537L186.25 538L188.75 539.5L190 541L191.88 538.25L194.38 536.38L196.25 535.75L198.12 536.38L200.62 536.38L203.12 537L205.62 537.62L206.88 538.88L208.75 538.88L210.25 543.88L211.5 540.12L213.12 538.88L214.38 538.5L216.25 542L217.75 545.75L219 543.88L220.62 548.25L221.88 547L223.5 550.75L225 545.75L226.88 547.62L228.75 552L230 558.25L231.25 553.25L232.5 554.5L233.75 563.88L234.75 563.25L235 563.25L236.25 562L237.5 558.25L239 562.62L241.25 564.25L243.75 563.25L245 562.62L246 557L246.88 562L248.75 563.25L250.62 562L252.5 562.62L253.75 562L255 551L255.62 562.62L256.88 559.5L258.75 555.75L260.62 554.75L263.12 554.5L265.62 552L267.25 547L269.38 543L271.25 543.88L273.75 541.38L276.25 545.12L278.12 543.25L279.38 542.25L281 545.12L282.75 548.88L284.38 545.75L286.25 543.88L288.12 542L290 541.75L291.88 542.62L293.5 541.75L295 544.25L296.88 545.12L298.75 543.88L299.75 543.88L300 544.25L301.88 541L303.75 539.5L306.25 538.88L308.75 540.12L310.62 539.75L312.5 540.75L315 539.5L317.5 538.25L320 536.75L321.88 537L323.75 535.12L326.25 536L328.75 535.12L331.25 534.5L332.75 533.88L334.38 536.38L336.25 538.88L338.12 535.75L340 534.5L341.88 535.12L343.75 537L345.25 539.75L346.88 535.12L348.12 533.88L349.38 537L351 542L352.25 547L353.12 551.38L354.38 547L355.62 546.38L356.88 540.75L358.12 538.88L359.38 539.5L360.25 544.5L361.25 550.12L363.12 550.75L364.75 551L365 551L366.25 552L367.25 555.75L368.5 562L370 563.88L371.88 562L373.5 556.75L375 560.75L376.88 562.62L378.75 563.25L380.62 562L381.88 560.12L383.12 561.38L384.38 555.75L385.25 553.25L386.25 557L387.5 550.75L388.5 555.75L389.38 562L390.25 552L391 537L391.88 535.75L392.75 539.5L393.75 549.5L395 553.25L396.25 554.5L397.5 549.5L398.75 547L400.25 552L401.25 549.5L402.5 553.25L404 552L404.75 557.62L405.62 552.62L406.88 550.75L408.75 548.25L410 552L411 549.5L411.88 553.88L413.12 560.75L414 554.5L415 552L416.5 557L418.12 555.75L420 554.5L421.88 553.25L423.75 551.38L425.62 548.25L426.88 547L428.12 549.5L429.75 552L430 552L431.88 550.75L433.12 548.25L434.38 550.12L435.62 547.62L437.5 548.25L438.75 546.38L440 543.25L441.25 545.12L442.5 547.62L444 545.12L445.62 544.5L447.5 542L449.38 542.62L451.25 543.25L453.12 541.38L455 542L456.88 542.25L458.5 539.5L460 543.25L461.88 540.75L463.75 540.12L465.62 540.5L467.5 538.25L469.38 539.5L471.25 543.25L473.12 541.38L475 540.75L476.88 538.88L478.12 537.62L480 538.25L481.88 540.12L483.75 542.62L485.62 545.75L486.88 545.12L488.75 542L490.62 540.12L492.5 539.5L494.75 537L495 537.25L496.88 538.88L498.5 540.75L500 541.38L501.5 539.5L503.12 537.62L505 536.38L506.88 535.12L508.12 534.5L509.38 537L510.62 539.5L511.88 540.12" fill="none" stroke="#000" stroke-width="1.4" stroke-linejoin="round"/>
</svg>
</body></html>
